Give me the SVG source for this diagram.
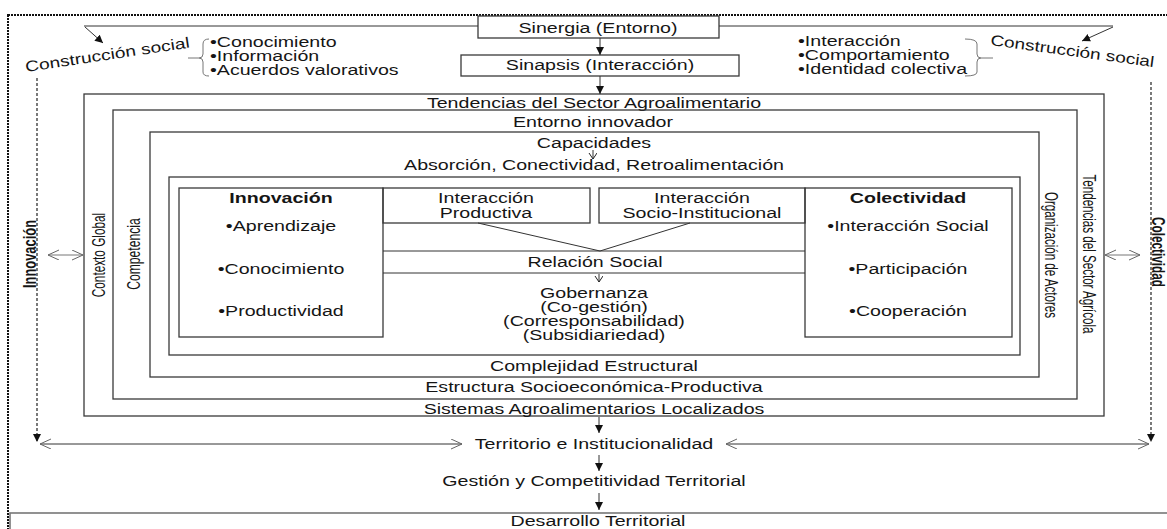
<svg xmlns="http://www.w3.org/2000/svg" width="1167" height="529" viewBox="0 0 1167 529">
<style>
.t{font-family:"Liberation Sans",Arial,sans-serif;font-size:14px;fill:#151515}
.c{text-anchor:middle}
.b{font-weight:bold}
.t.v{font-size:19px}
.box{fill:none;stroke:#3a3a3a;stroke-width:1.3}
.ln{fill:none;stroke:#333;stroke-width:1}
.gr{fill:none;stroke:#777;stroke-width:1}
.dot{fill:none;stroke:#111;stroke-width:2;stroke-dasharray:2 1}
.dash{fill:none;stroke:#222;stroke-width:1.2;stroke-dasharray:3 2}
</style>
<defs>
<marker id="af" markerUnits="userSpaceOnUse" markerWidth="10" markerHeight="10" refX="8" refY="4" orient="auto"><path d="M0,0 L8,4 L0,8 z" fill="#111"/></marker>
<marker id="ao" markerUnits="userSpaceOnUse" markerWidth="14" markerHeight="12" refX="11" refY="5" orient="auto-start-reverse"><path d="M0,0 L11,5 L0,10" fill="none" stroke="#666" stroke-width="1"/></marker>
<marker id="av" markerUnits="userSpaceOnUse" markerWidth="10" markerHeight="10" refX="6" refY="4" orient="auto"><path d="M0,0 L6,4 L0,8" fill="none" stroke="#222" stroke-width="1"/></marker>
</defs>
<rect width="1167" height="529" fill="#fff"/>

<g id="frame">
<rect class="dot" x="8" y="15" width="1180" height="540"/>
</g>

<g id="sinergia">
<rect class="box" x="478" y="16" width="241" height="22" fill="#fff"/>
<text class="t c" transform="translate(598,33) scale(1.4,1)">Sinergia (Entorno)</text>
</g>

<g id="sinapsis">
<rect class="box" x="461" y="55" width="278" height="21"/>
<text class="t c" transform="translate(600,70) scale(1.4,1)">Sinapsis (Interacción)</text>
</g>

<g id="construccion-izq">
<text class="t" style="font-size:15px" transform="translate(26,72) rotate(-8.5)" textLength="166" lengthAdjust="spacingAndGlyphs">Construcción social</text>
<path class="gr" d="M209,39 Q203,39 203,44 L203,54 Q203,58 199,58 Q203,58 203,62 L203,72 Q203,76 209,76 M188,58 L199,58"/>
<text class="t" transform="translate(210,47) scale(1.4,1)">•Conocimiento</text>
<text class="t" transform="translate(210,61) scale(1.4,1)">•Información</text>
<text class="t" transform="translate(210,75) scale(1.4,1)">•Acuerdos valorativos</text>
</g>

<g id="construccion-der">
<text class="t" style="font-size:15px" transform="translate(990,45) rotate(7.7)" textLength="165" lengthAdjust="spacingAndGlyphs">Construcción social</text>
<path class="gr" d="M965,39 Q977,39 977,44 L977,54 Q977,58 981,58 Q977,58 977,62 L977,72 Q977,76 965,76 M981,58 L993,58"/>
<text class="t" transform="translate(798,46) scale(1.4,1)">•Interacción</text>
<text class="t" transform="translate(798,60) scale(1.4,1)">•Comportamiento</text>
<text class="t" transform="translate(798,74) scale(1.4,1)">•Identidad colectiva</text>
</g>

<g id="eje-innovacion">
<text class="t c b v" transform="translate(36,254) rotate(-90) scale(0.68,1)">Innovación</text>
</g>
<g id="eje-colectividad">
<text class="t c b v" transform="translate(1152,252) rotate(90) scale(0.62,1)">Colectividad</text>
</g>

<g id="sector-agroalimentario">
<rect class="box" x="84" y="94" width="1020" height="322"/>
<text class="t c" transform="translate(594,108) scale(1.4,1)">Tendencias del Sector Agroalimentario</text>
<text class="t c" transform="translate(594,414) scale(1.4,1)">Sistemas Agroalimentarios  Localizados</text>
<text class="t c v" transform="translate(105,255) rotate(-90) scale(0.62,1)">Contexto Global</text>
<text class="t c v" transform="translate(1083,254) rotate(90) scale(0.61,1)">Tendencias del Sector Agrícola</text>
</g>

<g id="entorno-innovador">
<rect class="box" x="113" y="110" width="964" height="289"/>
<text class="t c" transform="translate(593,127) scale(1.4,1)">Entorno innovador</text>
<text class="t c" transform="translate(594,392) scale(1.4,1)">Estructura Socioeconómica-Productiva</text>
<text class="t c v" transform="translate(140,254) rotate(-90) scale(0.64,1)">Competencia</text>
<text class="t c v" transform="translate(1045,255) rotate(90) scale(0.61,1)">Organización de Actores</text>
</g>

<g id="capacidades">
<rect class="box" x="150" y="132" width="889" height="245"/>
<text class="t c" transform="translate(594,148) scale(1.4,1)">Capacidades</text>
<text class="t c" transform="translate(594,170) scale(1.4,1)">Absorción, Conectividad, Retroalimentación</text>
<text class="t c" transform="translate(594,371) scale(1.4,1)">Complejidad Estructural</text>
</g>

<g id="nucleo">
<rect class="box" x="169" y="177" width="851" height="178"/>
</g>

<g id="innovacion">
<rect class="box" x="179" y="188" width="204" height="149"/>
<text class="t c b" transform="translate(281,203) scale(1.4,1)">Innovación</text>
<text class="t c" transform="translate(281,231) scale(1.4,1)">•Aprendizaje</text>
<text class="t c" transform="translate(281,274) scale(1.4,1)">•Conocimiento</text>
<text class="t c" transform="translate(281,316) scale(1.4,1)">•Productividad</text>
</g>

<g id="colectividad">
<rect class="box" x="805" y="188" width="207" height="149"/>
<text class="t c b" transform="translate(908,203) scale(1.4,1)">Colectividad</text>
<text class="t c" transform="translate(908,231) scale(1.4,1)">•Interacción Social</text>
<text class="t c" transform="translate(908,274) scale(1.4,1)">•Participación</text>
<text class="t c" transform="translate(908,316) scale(1.4,1)">•Cooperación</text>
</g>

<g id="interaccion-productiva">
<rect class="box" x="383" y="188" width="207" height="35"/>
<text class="t c" transform="translate(486,203) scale(1.4,1)">Interacción</text>
<text class="t c" transform="translate(486,218) scale(1.4,1)">Productiva</text>
</g>

<g id="interaccion-socio">
<rect class="box" x="599" y="188" width="206" height="35"/>
<text class="t c" transform="translate(702,203) scale(1.4,1)">Interacción</text>
<text class="t c" transform="translate(702,218) scale(1.4,1)">Socio-Institucional</text>
</g>

<g id="relacion-social">
<path class="ln" d="M383,251 H805 M383,273 H805"/>
<text class="t c" transform="translate(595,267) scale(1.4,1)">Relación Social</text>
</g>

<g id="gobernanza">
<text class="t c" transform="translate(594,298) scale(1.4,1)">Gobernanza</text>
<text class="t c" transform="translate(594,312) scale(1.4,1)">(Co-gestión)</text>
<text class="t c" transform="translate(594,326) scale(1.4,1)">(Corresponsabilidad)</text>
<text class="t c" transform="translate(594,340) scale(1.4,1)">(Subsidiariedad)</text>
</g>

<g id="territorio">
<text class="t c" transform="translate(594,449) scale(1.4,1)">Territorio e Institucionalidad</text>
</g>
<g id="gestion">
<text class="t c" transform="translate(594,486) scale(1.4,1)">Gestión y Competitividad Territorial</text>
</g>
<g id="desarrollo">
<rect x="10" y="513" width="1180" height="40" fill="none" stroke="#777" stroke-width="1.6"/>
<text class="t c" transform="translate(598,526) scale(1.4,1)">Desarrollo Territorial</text>
</g>

<g id="connectors">
<path class="ln" d="M84,26 H478 M719,26 H1113"/>
<line class="ln" x1="85" y1="27" x2="103" y2="43" marker-end="url(#af)"/>
<line class="ln" x1="1113" y1="27" x2="1082" y2="41" marker-end="url(#af)"/>
<line class="ln" x1="600" y1="38" x2="600" y2="55" marker-end="url(#af)"/>
<line class="ln" x1="600" y1="76" x2="600" y2="94" marker-end="url(#af)"/>
<line class="ln" x1="593" y1="150" x2="593" y2="159" marker-end="url(#av)"/>
<line class="ln" x1="478" y1="223" x2="600" y2="251"/>
<line class="ln" x1="690" y1="223" x2="600" y2="251"/>
<line class="ln" x1="599" y1="274" x2="599" y2="282" marker-end="url(#av)"/>
<line class="dash" x1="37" y1="78" x2="37" y2="442" marker-end="url(#af)"/>
<line class="dash" x1="1151" y1="82" x2="1151" y2="442" marker-end="url(#af)"/>
<line class="gr" x1="48" y1="255" x2="83" y2="255" marker-start="url(#ao)" marker-end="url(#ao)"/>
<line class="gr" x1="1105" y1="255" x2="1140" y2="255" marker-start="url(#ao)" marker-end="url(#ao)"/>
<line class="ln" x1="40" y1="444" x2="462" y2="444" marker-start="url(#ao)" marker-end="url(#ao)"/>
<line class="ln" x1="726" y1="444" x2="1149" y2="444" marker-start="url(#ao)" marker-end="url(#ao)"/>
<line class="ln" x1="599" y1="417" x2="599" y2="433" marker-end="url(#af)"/>
<line class="ln" x1="599" y1="455" x2="599" y2="471" marker-end="url(#af)"/>
<line class="ln" x1="599" y1="493" x2="599" y2="510" marker-end="url(#af)"/>
</g>
</svg>
